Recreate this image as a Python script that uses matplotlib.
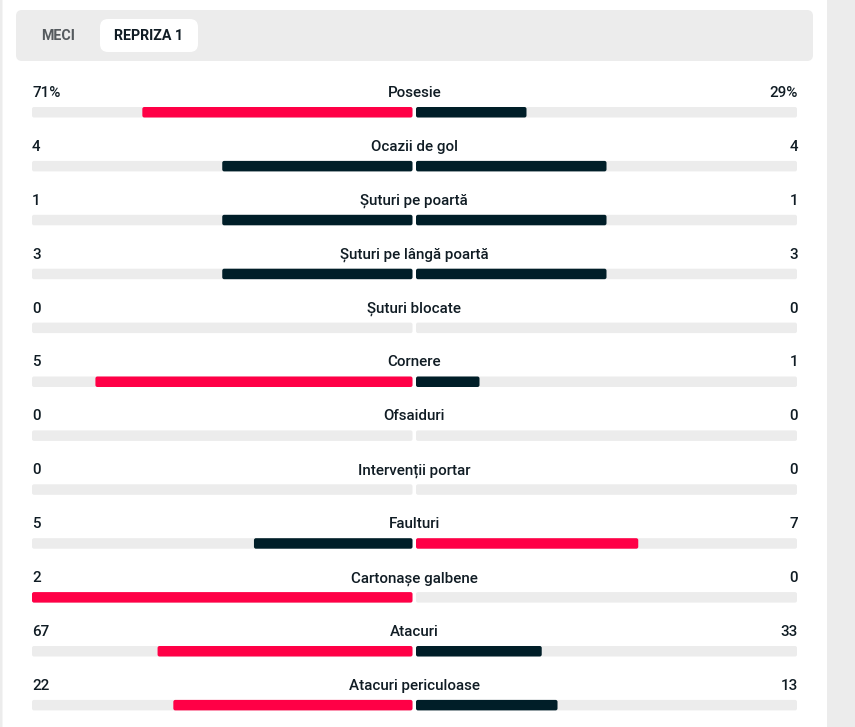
import matplotlib.pyplot as plt
from matplotlib.patches import FancyBboxPatch

# match stats (first half)
stats = ["Posesie", "Ocazii de gol", "Șuturi pe poartă", "Șuturi pe lângă poartă",
         "Șuturi blocate", "Cornere", "Ofsaiduri", "Intervenții portar",
         "Faulturi", "Cartonașe galbene", "Atacuri", "Atacuri periculoase"]
home = [71, 4, 1, 3, 0, 5, 0, 0, 5, 2, 67, 22]
away = [29, 4, 1, 3, 0, 1, 0, 0, 7, 0, 33, 13]
home_labels = ["71%", "4", "1", "3", "0", "5", "0", "0", "5", "2", "67", "22"]
away_labels = ["29%", "4", "1", "3", "0", "1", "0", "0", "7", "0", "33", "13"]
tabs = ["MECI", "REPRIZA 1"]

RED = "#ff0046"
DARK = "#001e28"
TRACK = "#ececec"
TEXT = "#101c24"

plt.rcParams["font.family"] = ["Roboto", "DejaVu Sans"]

W, H = 855, 727
fig = plt.figure(figsize=(W / 100, H / 100), dpi=100)
ax = fig.add_axes([0, 0, 1, 1])
ax.set_xlim(0, W)
ax.set_ylim(H, 0)
ax.axis("off")


def rbox(x0, y0, w, h, color, r=2):
    if w <= 0:
        return
    r = min(r, w / 2, h / 2)
    ax.add_patch(FancyBboxPatch((x0 + r, y0 + r), w - 2 * r, h - 2 * r,
                                boxstyle=f"round,pad={r}", fc=color, ec="none"))


# page side strips
rbox(0, 0, 2.5, H, TRACK, r=0)
rbox(827, 0, 28, H, TRACK, r=0)

# tab bar
rbox(16, 10, 797, 51, TRACK, r=6)
rbox(100, 19, 98, 33, "white", r=8)
ax.text(58, 40, tabs[0], ha="center", va="baseline", fontsize=10.3,
        fontweight="bold", color="#555a5e")
ax.text(149, 40, tabs[1], ha="center", va="baseline", fontsize=10.3,
        fontweight="bold", color=TEXT)

x_left, x_mid_l, x_mid_r, x_right = 32, 412.5, 416, 797
half_l = x_mid_l - x_left
half_r = x_right - x_mid_r
row0, step = 97, 53.9
bar_h = 10.5
fs = 10.9

for i, name in enumerate(stats):
    y = row0 + i * step
    ax.text(x_left, y, home_labels[i], ha="left", va="baseline", fontsize=fs,
            fontweight="medium", color=TEXT)
    ax.text(x_right + 1, y, away_labels[i], ha="right", va="baseline", fontsize=fs,
            fontweight="medium", color=TEXT)
    ax.text((x_mid_l + x_mid_r) / 2, y, name, ha="center", va="baseline",
            fontsize=fs, fontweight="medium", color=TEXT)

    by = y + 10
    rbox(x_left, by, half_l, bar_h, TRACK)
    rbox(x_mid_r, by, half_r, bar_h, TRACK)

    total = home[i] + away[i]
    if total == 0:
        continue
    hw = half_l * home[i] / total
    aw = half_r * away[i] / total
    hc = RED if home[i] > away[i] else DARK
    ac = RED if away[i] > home[i] else DARK
    rbox(x_mid_l - hw, by, hw, bar_h, hc)
    rbox(x_mid_r, by, aw, bar_h, ac)

fig.savefig("out.png", dpi=100, facecolor="white")
